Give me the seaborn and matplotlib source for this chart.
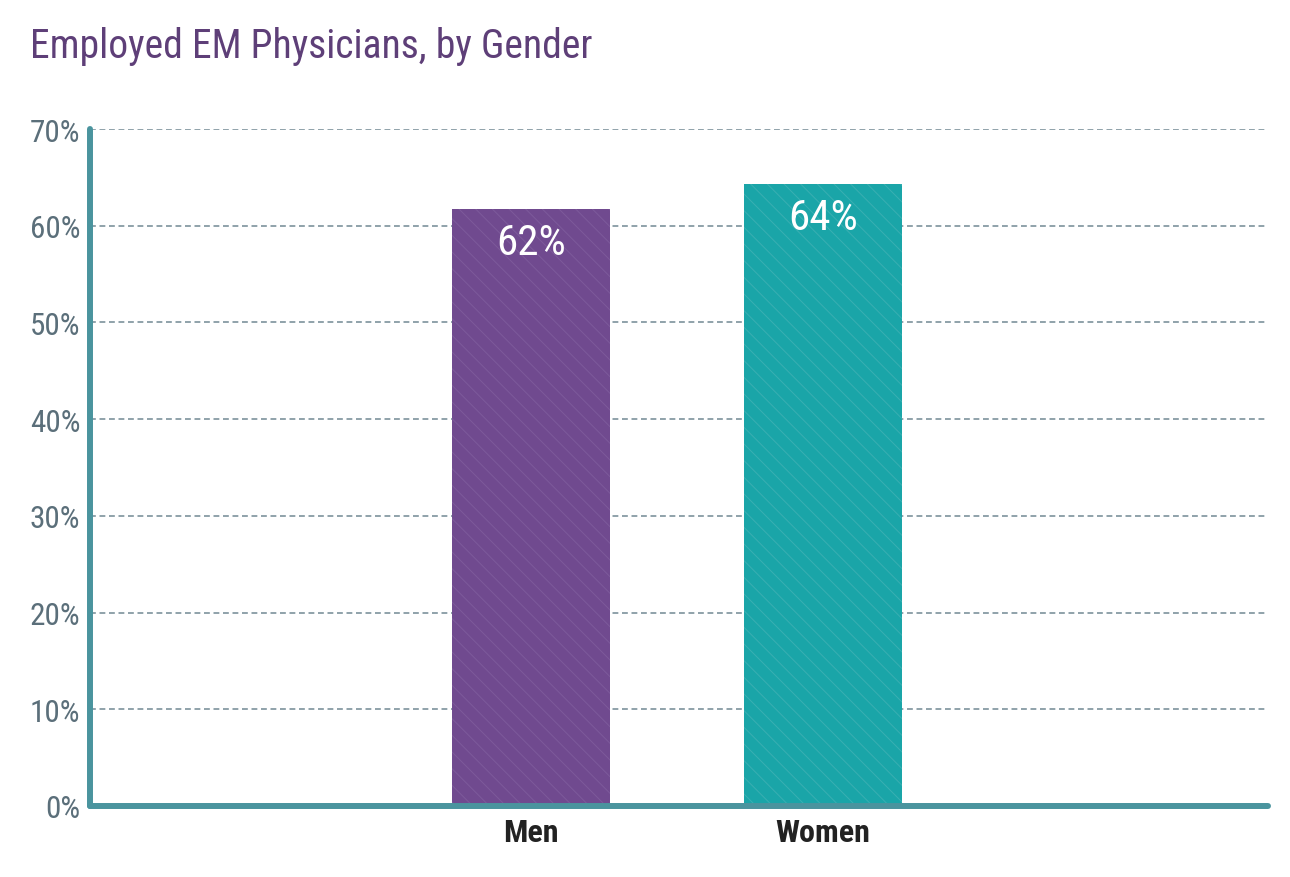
import matplotlib
matplotlib.use("Agg")
import matplotlib.pyplot as plt
import seaborn as sns
import pandas as pd

# 数据
genders = ["Men", "Women"]
employed_pct = [61.7, 64.3]
bar_colors = ["#704a8f", "#1aa5a8"]
hatch_colors = ["#7d5a9b", "#3aafb2"]
y_ticks = [0, 10, 20, 30, 40, 50, 60, 70]
title_text = "Employed EM Physicians, by Gender"

sns.set_theme(style="white")
plt.rcParams['font.family'] = ['Roboto Condensed', 'Roboto', 'DejaVu Sans']
plt.rcParams['hatch.linewidth'] = 0.7

df = pd.DataFrame({"gender": genders, "pct": employed_pct})

fig = plt.figure(figsize=(12.9, 8.78), dpi=100)
ax = fig.add_axes([90 / 1290, 1 - 807 / 878, (1268 - 90) / 1290, (807 - 130) / 878])

sns.barplot(data=df, x="gender", y="pct", hue="gender", palette=bar_colors,
            legend=False, width=0.54, saturation=1, ax=ax, zorder=2)

# 条纹纹理
for patch, hc in zip(ax.patches, hatch_colors):
    patch.set_hatch("\\\\")
    patch.set_edgecolor(hc)
    patch.set_linewidth(0)

# 柱内标签
for patch, v in zip(ax.patches, employed_pct):
    cx = patch.get_x() + patch.get_width() / 2
    ax.annotate(f"{v:.0f}%", (cx, patch.get_height()), xytext=(0, -24),
                textcoords="offset points", ha="center", va="center",
                color="white", fontsize=31, zorder=3)

ax.set_xlim(-1.51, 2.524)
ax.set_ylim(0, 70)
ax.set_yticks(y_ticks)
ax.set_yticklabels([f"{t}%" for t in y_ticks])
ax.set_xlabel("")
ax.set_ylabel("")

# 网格
for t in y_ticks[1:]:
    ax.axhline(t, xmin=0, xmax=(1266 - 90) / (1268 - 90), color="#7d929c",
               lw=1.2, ls=(0, (3.5, 2.2)), zorder=1)

for side in ["top", "right"]:
    ax.spines[side].set_visible(False)
for side in ["left", "bottom"]:
    ax.spines[side].set_color("#4a949e")
    ax.spines[side].set_linewidth(4.3)
    ax.spines[side].set_capstyle("round")
    ax.spines[side].set_zorder(4)

ax.tick_params(axis="y", length=0, pad=7, labelsize=22.5, labelcolor="#5b6f7a")
ax.tick_params(axis="x", length=0, pad=8, labelsize=23, labelcolor="#222222")
for lbl in ax.get_xticklabels():
    lbl.set_fontweight("bold")

fig.text(30 / 1290, 1 - 46 / 878, title_text, color="#5e3f78", fontsize=28.5,
         ha="left", va="center")

plt.savefig("out.png", dpi=100)
